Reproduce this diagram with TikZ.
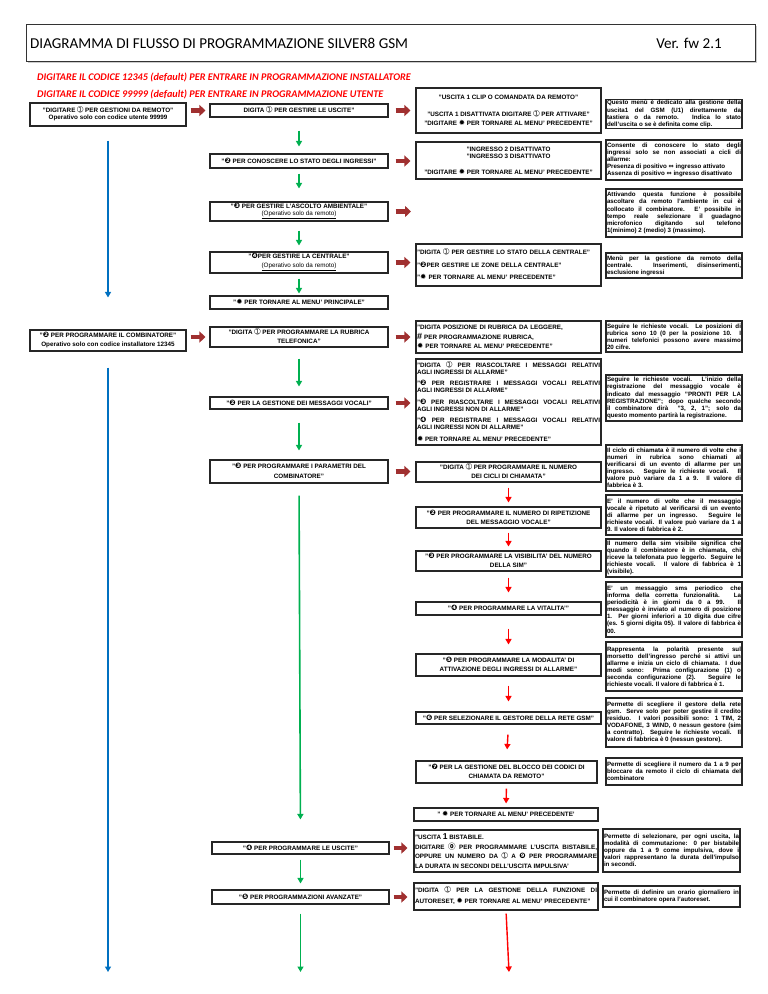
\documentclass[tikz,border=0pt]{standalone}
\usepackage{fontspec}
\setmainfont{Liberation Sans}
\newfontfamily\titlefont{Carlito}
\newfontfamily\symfont{DejaVu Sans}
\newfontfamily\cjkfont{Noto Sans CJK JP}
\usetikzlibrary{arrows.meta,shadows}

\definecolor{rossoscuro}{RGB}{160,48,48}
\definecolor{verde}{RGB}{0,176,80}
\definecolor{blu}{RGB}{0,112,192}

\newcommand{\menu}{\fontsize{6.3}{7.5}\selectfont\bfseries}
\newcommand{\nota}{\fontsize{6.2}{7.1}\selectfont\bfseries}
\newcommand{\tasto}[1]{\smash{\symfont\fontsize{7.5}{7.5}\selectfont #1}}
\newcommand{\stella}{\tasto{✹}}
\newcommand{\salto}{\par\vspace{4.5pt}}

\tikzset{
  box/.style={draw=black!85, line width=1.1pt, fill=white, inner sep=1pt, font=\menu, align=center},
  desc/.style={box, font=\nota, align=justify, text width=134pt},
  lista/.style={box, align=justify, text width=183pt},
  testata/.style={draw=black!80, line width=1.1pt, fill=white, drop shadow={shadow xshift=1.5pt, shadow yshift=-1.5pt, fill=black!40}},
  mfreccia/.style={draw=rossoscuro, line width=4.5pt, -{Triangle[width=11pt,length=6pt]}},
  vfreccia/.style={draw=verde, line width=1.6pt, -{Triangle[width=6pt,length=5.5pt]}},
  bfreccia/.style={draw=blu, line width=1.4pt, -{Triangle[width=6pt,length=5.5pt]}},
  rfreccia/.style={draw=red, line width=1.4pt, -{Triangle[width=6pt,length=5.5pt]}}
}

\begin{document}
\begin{tikzpicture}[x=1pt,y=-1pt]
  \useasboundingbox (0,0) rectangle (768,994);

  % intestazione
  \node[testata, minimum width=729pt, minimum height=37pt, anchor=north west] (testata) at (26,24) {};
  \node[font={\titlefont\fontsize{15.1}{17}\selectfont}, anchor=west, inner sep=0pt] (titolo) at (30,43) {DIAGRAMMA DI FLUSSO DI PROGRAMMAZIONE SILVER8 GSM};
  \node[font={\titlefont\fontsize{15.1}{17}\selectfont}, anchor=east, inner sep=0pt] (versione) at (722,43) {Ver. fw 2.1};
  \node[font={\titlefont\bfseries\itshape\fontsize{10.2}{12}\selectfont}, text=red, anchor=west, inner sep=0pt] (codice1) at (37,77) {DIGITARE IL CODICE 12345 (default) PER ENTRARE IN PROGRAMMAZIONE INSTALLATORE};
  \node[font={\titlefont\bfseries\itshape\fontsize{10.2}{12}\selectfont}, text=red, anchor=west, inner sep=0pt] (codice2) at (37,94.5) {DIGITARE IL CODICE 99999 (default) PER ENTRARE IN PROGRAMMAZIONE UTENTE};

  % colonna 1
  \node[box, minimum width=156pt, minimum height=23pt] (a1) at (108,114.5) {"DIGITARE \tasto{➀} PER GESTIONI DA REMOTO"\\Operativo solo con codice utente 99999};
  \node[box, minimum width=156pt, minimum height=21pt] (a2) at (108,340.5) {"\tasto{❷} PER PROGRAMMARE IL COMBINATORE"\\[1.5pt]Operativo solo con codice installatore 12345};

  % colonna 2
  \node[box, minimum width=178pt, minimum height=13pt] (b1) at (299,110.5) {DIGITA \tasto{➀} PER GESTIRE LE USCITE"};
  \node[box, minimum width=178pt, minimum height=14pt] (b2) at (299,161) {"\tasto{❷} PER CONOSCERE LO STATO DEGLI INGRESSI"};
  \node[box, minimum width=178pt, minimum height=19pt] (b3) at (299,211.5) {"\tasto{❸} PER GESTIRE L'ASCOLTO AMBIENTALE"\\\underline{\mdseries(Operativo solo da remoto)}};
  \node[box, minimum width=178pt, minimum height=21pt] (b4) at (299,262.5) {"\tasto{❹}PER GESTIRE LA CENTRALE"\\[2pt]\underline{\mdseries(Operativo solo da remoto)}};
  \node[box, minimum width=178pt, minimum height=13pt] (b5) at (299,302.5) {"\stella{} PER TORNARE AL MENU' PRINCIPALE"};
  \node[box, minimum width=178pt, minimum height=20pt] (b6) at (299,337) {"DIGITA \tasto{➀} PER PROGRAMMARE LA RUBRICA\\[1.5pt]TELEFONICA"};
  \node[box, minimum width=178pt, minimum height=12pt] (b7) at (299,403) {"\tasto{❷} PER LA GESTIONE DEI MESSAGGI VOCALI"};
  \node[box, minimum width=178pt, minimum height=23pt] (b8) at (299,471.5) {"\tasto{❸} PER PROGRAMMARE I PARAMETRI DEL\\[2pt]COMBINATORE"};
  \node[box, minimum width=177pt, minimum height=12pt] (b9) at (300.5,848) {"\tasto{❹} PER PROGRAMMARE LE USCITE"};
  \node[box, minimum width=177pt, minimum height=14pt] (b10) at (300.5,897) {"\tasto{❺} PER PROGRAMMAZIONI AVANZATE"};

  % colonna 3
  \node[box, minimum width=185pt, minimum height=45pt] (c1) at (508.5,110.5) {"USCITA 1 CLIP O COMANDATA DA REMOTO"\\[9pt]"USCITA 1 DISATTIVATA DIGITARE \tasto{➀} PER ATTIVARE"\\[1.5pt]"DIGITARE \stella{} PER TORNARE AL MENU' PRECEDENTE"};
  \node[box, minimum width=185pt, minimum height=37pt] (c2) at (508.5,160.5) {"INGRESSO 2 DISATTIVATO\\"INGRESSO 3 DISATTIVATO\\[8pt]"DIGITARE \stella{} PER TORNARE AL MENU' PRECEDENTE"};
  \node[box, align=left, text width=183pt, minimum height=42pt, font=\fontsize{6.3}{12.5}\selectfont\bfseries] (c4) at (508.5,265) {"DIGITA \tasto{➀} PER GESTIRE LO STATO DELLA CENTRALE"\\"\tasto{❷}PER GESTIRE LE ZONE DELLA CENTRALE"\\"\stella{} PER TORNARE AL MENU' PRECEDENTE"};
  \node[box, align=left, text width=183pt, minimum height=32pt, font=\fontsize{6.3}{9.5}\selectfont\bfseries] (c6) at (508.5,337) {"DIGITA POSIZIONE DI RUBRICA DA LEGGERE,\\{\fontsize{9}{9}\selectfont\#} PER PROGRAMMAZIONE RUBRICA,\\\stella{} PER TORNARE AL MENU' PRECEDENTE"};
  \node[lista, minimum height=86pt, font=\fontsize{6.3}{7}\selectfont\bfseries] (c7) at (508.5,402) {"DIGITA \tasto{➀} PER RIASCOLTARE I MESSAGGI RELATIVI\linebreak AGLI INGRESSI DI ALLARME"\salto
    "\tasto{❷} PER REGISTRARE I MESSAGGI VOCALI RELATIVI\linebreak AGLI INGRESSI DI ALLARME"\salto
    "\tasto{❸} PER RIASCOLTARE I MESSAGGI VOCALI RELATIVI\linebreak AGLI INGRESSI NON DI ALLARME"\salto
    "\tasto{❹} PER REGISTRARE I MESSAGGI VOCALI RELATIVI\linebreak AGLI INGRESSI NON DI ALLARME"\salto
    \stella{} PER TORNARE AL MENU' PRECEDENTE"};
  \node[box, minimum width=185pt, minimum height=20pt] (c8) at (508.5,472) {"DIGITA \tasto{➀} PER PROGRAMMARE IL NUMERO\\[1.5pt]DEI CICLI DI CHIAMATA"};
  \node[box, minimum width=185pt, minimum height=21pt] (c8b) at (508.5,517.5) {"\tasto{❷} PER PROGRAMMARE IL NUMERO DI RIPETIZIONE\\[1.5pt]DEL MESSAGGIO VOCALE"};
  \node[box, minimum width=185pt, minimum height=20pt] (c8c) at (508.5,561) {"\tasto{❸} PER PROGRAMMARE LA VISIBILITA' DEL NUMERO\\[1.5pt]DELLA SIM"};
  \node[box, minimum width=185pt, minimum height=13pt] (c8d) at (508.5,608.5) {"\tasto{❹} PER PROGRAMMARE LA VITALITA'"};
  \node[box, minimum width=185pt, minimum height=22pt] (c8e) at (508.5,665) {"\tasto{❺} PER PROGRAMMARE LA MODALITA' DI\\[1.5pt]ATTIVAZIONE DEGLI INGRESSI DI ALLARME"};
  \node[box, minimum width=185pt, minimum height=12pt] (c8f) at (508.5,718) {"\tasto{❻} PER SELEZIONARE IL GESTORE DELLA RETE GSM"};
  \node[box, minimum width=181pt, minimum height=22pt] (c8g) at (506.5,772) {"\tasto{❼} PER LA GESTIONE DEL BLOCCO DEI CODICI DI\\[1.5pt]CHIAMATA DA REMOTO"};
  \node[box, minimum width=184pt, minimum height=13pt] (c8h) at (506,814.5) {" \stella{} PER TORNARE AL MENU' PRECEDENTE'};
  \node[box, align=justify, text width=182pt, minimum height=42pt, font=\fontsize{6.3}{9.5}\selectfont\bfseries] (c9) at (506,851) {"USCITA {\fontsize{8.5}{8}\selectfont 1} BISTABILE.\\
    DIGITARE \tasto{\cjkfont ⓪} PER PROGRAMMARE L'USCITA BISTABILE,\linebreak
    OPPURE UN NUMERO DA \tasto{➀} A \tasto{❾} PER PROGRAMMARE\linebreak
    LA DURATA IN SECONDI DELL'USCITA IMPULSIVA'};
  \node[box, align=justify, text width=182pt, minimum height=27pt, font=\fontsize{6.3}{11}\selectfont\bfseries] (c10) at (506,896.5) {"DIGITA \tasto{➀} PER LA GESTIONE DELLA FUNZIONE DI\linebreak AUTORESET, \stella{} PER TORNARE AL MENU' PRECEDENTE"};

  % colonna 4
  \node[desc, minimum height=26pt] (d1) at (674,114) {Questo menù è dedicato alla gestione della\linebreak uscita1 del GSM (U1) direttamente da\linebreak tastiera o da remoto. Indica lo stato\linebreak dell'uscita o se è definita come clip.};
  \node[desc, minimum height=40pt] (d2) at (674,160) {Consente di conoscere lo stato degli\linebreak ingressi solo se non associati a cicli di\linebreak allarme:\\Presenza di positivo {\symfont ⇔} ingresso attivato\\Assenza di positivo {\symfont ⇔} ingresso disattivato};
  \node[desc, minimum height=48pt] (d3) at (674,213) {Attivando questa funzione è possibile\linebreak ascoltare da remoto l'ambiente in cui è\linebreak collocato il combinatore. E' possibile in\linebreak tempo reale selezionare il guadagno\linebreak microfonico digitando sul telefono\linebreak 1(minimo) 2 (medio) 3 (massimo).};
  \node[desc, minimum height=25pt] (d4) at (674,265.5) {Menù per la gestione da remoto della\linebreak centrale. Inserimenti, disinserimenti,\linebreak esclusione ingressi};
  \node[desc, minimum height=31pt] (d6) at (674,336.5) {Seguire le richieste vocali. Le posizioni di\linebreak rubrica sono 10 (0 per la posizione 10. I\linebreak numeri telefonici possono avere massimo\linebreak 20 cifre.};
  \node[desc, minimum height=46pt] (d7) at (674,398) {Seguire le richieste vocali. L'inizio della\linebreak registrazione del messaggio vocale è\linebreak indicato dal messaggio "PRONTI PER LA\linebreak REGISTRAZIONE"; dopo qualche secondo\linebreak il combinatore dirà \ "3, 2, 1"; solo da\linebreak questo momento partirà la registrazione.};
  \node[desc, minimum height=46pt] (d8a) at (674,468) {Il ciclo di chiamata è il numero di volte che i\linebreak numeri in rubrica sono chiamati al\linebreak verificarsi di un evento di allarme per un\linebreak ingresso. Seguire le richieste vocali. Il\linebreak valore può variare da 1 a 9. Il valore di\linebreak fabbrica è 3.};
  \node[desc, minimum height=40pt] (d8b) at (674,515) {E' il numero di volte che il messaggio\linebreak vocale è ripetuto al verificarsi di un evento\linebreak di allarme per un ingresso. Seguire le\linebreak richieste vocali. Il valore può variare da 1 a\linebreak 9. Il valore di fabbrica è 2.};
  \node[desc, minimum height=38pt] (d8c) at (674,558) {Il numero della sim visibile significa che\linebreak quando il combinatore è in chiamata, chi\linebreak riceve la telefonata puo leggerlo. Seguire le\linebreak richieste vocali. Il valore di fabbrica è 1\linebreak (visibile).};
  \node[desc, minimum height=55pt] (d8d) at (674,609.5) {E' un messaggio sms periodico che\linebreak informa della corretta funzionalità. La\linebreak periodicità è in giorni da 0 a 99. Il\linebreak messaggio è inviato al numero di posizione\linebreak 1. Per giorni inferiori a 10 digita due cifre\linebreak (es. 5 giorni digita 05). Il valore di fabbrica è\linebreak 00.};
  \node[desc, minimum height=49pt] (d8e) at (674,666.5) {Rappresenta la polarità presente sul\linebreak morsetto dell'ingresso perché si attivi un\linebreak allarme e inizia un ciclo di chiamata. I due\linebreak modi sono: Prima configurazione (1) o\linebreak seconda configurazione (2). Seguire le\linebreak richieste vocali. Il valore di fabbrica è 1.};
  \node[desc, minimum height=49pt] (d8f) at (674,722.5) {Permette di scegliere il gestore della rete\linebreak gsm. Serve solo per poter gestire il credito\linebreak residuo. I valori possibili sono: 1 TIM, 2\linebreak VODAFONE, 3 WIND, 0 nessun gestore (sim\linebreak a contratto). Seguire le richieste vocali. Il\linebreak valore di fabbrica è 0 (nessun gestore).};
  \node[desc, minimum height=27pt] (d8g) at (674,771.5) {Permette di scegliere il numero da 1 a 9 per\linebreak bloccare da remoto il ciclo di chiamata del\linebreak combinatore};
  \node[desc, text width=135pt, minimum height=43pt] (d9) at (671.5,850.5) {Permette di selezionare, per ogni uscita, la\linebreak modalità di commutazione: 0 per bistabile\linebreak oppure da 1 a 9 come impulsiva, dove i\linebreak valori rappresentano la durata dell'impulso\linebreak in secondi.};
  \node[desc, text width=135pt, minimum height=21pt] (d10) at (671.5,896.5) {Permette di definire un orario giornaliero in\linebreak cui il combinatore opera l'autoreset.};

  % estremi liberi
  \coordinate (vuoto3) at (416,211.5);
  \coordinate (finea) at (108,972);
  \coordinate (fineb) at (300.5,972);
  \coordinate (finec) at (509,972);

  % frecce verso destra
  \draw[mfreccia, shorten <=4pt, shorten >=4pt] (a1.east |- b1) -- (b1.west);
  \draw[mfreccia, shorten <=4pt, shorten >=4pt] (a2.east |- b6) -- (b6.west);
  \draw[mfreccia, shorten <=7pt, shorten >=5pt] (b1.east) -- (b1.east -| c1.west);
  \draw[mfreccia, shorten <=7pt, shorten >=5pt] (b2.east) -- (b2.east -| c2.west);
  \draw[mfreccia, shorten <=7pt, shorten >=5pt] (b3.east) -- (vuoto3);
  \draw[mfreccia, shorten <=7pt, shorten >=5pt] (b4.east) -- (b4.east -| c4.west);
  \draw[mfreccia, shorten <=7pt, shorten >=5pt] (b6.east) -- (b6.east -| c6.west);
  \draw[mfreccia, shorten <=7pt, shorten >=5pt] (b7.east) -- (b7.east -| c7.west);
  \draw[mfreccia, shorten <=7pt, shorten >=5pt] (b8.east) -- (b8.east -| c8.west);
  \draw[mfreccia, shorten <=4pt, shorten >=6pt] (b9.east) -- (b9.east -| c9.west);
  \draw[mfreccia, shorten <=4pt, shorten >=6pt] (b10.east) -- (b10.east -| c10.west);

  % frecce blu
  \draw[bfreccia, shorten <=14pt, shorten >=32pt] (a1.south) -- (a2.north);
  \draw[bfreccia, shorten <=16pt] (a2.south) -- (finea);

  % frecce verdi
  \draw[vfreccia, shorten <=13pt, shorten >=7pt] (b1.south) -- (b2.north);
  \draw[vfreccia, shorten <=5pt, shorten >=13pt] (b2.south) -- (b3.north);
  \draw[vfreccia, shorten <=9pt, shorten >=6pt] (b3.south) -- (b4.north);
  \draw[vfreccia, shorten <=5pt, shorten >=2pt] (b4.south) -- (b5.north);
  \draw[vfreccia, shorten <=11pt, shorten >=10pt] (b6.south) -- (b7.north);
  \draw[vfreccia, shorten <=13pt, shorten >=9pt] (b7.south) -- (b8.north);
  \draw[vfreccia, shorten <=12pt, shorten >=22pt] (b8.south) -- (b9.north);
  \draw[vfreccia, shorten <=5pt, shorten >=6pt] (b9.south) -- (b10.north);
  \draw[vfreccia, shorten <=9pt] (b10.south) -- (fineb);

  % frecce rosse
  \draw[rfreccia, shorten <=5pt, shorten >=4pt] (c8.south) -- (c8b.north);
  \draw[rfreccia, shorten <=4pt, shorten >=4pt] (c8b.south) -- (c8c.north);
  \draw[rfreccia, shorten <=6pt, shorten >=9pt] (c8c.south) -- (c8d.north);
  \draw[rfreccia, shorten <=13pt, shorten >=9pt] (c8d.south) -- (c8e.north);
  \draw[rfreccia, shorten <=9pt, shorten >=10pt] (c8e.south) -- (c8f.north);
  \draw[rfreccia, shorten <=10pt, shorten >=11pt] (c8f.south) -- (c8g.north);
  \draw[rfreccia, shorten <=5pt, shorten >=4pt] (c8g.south) -- (c8h.north);
  \draw[rfreccia, shorten <=3pt] (c10.south) -- (finec);
\end{tikzpicture}
\end{document}
